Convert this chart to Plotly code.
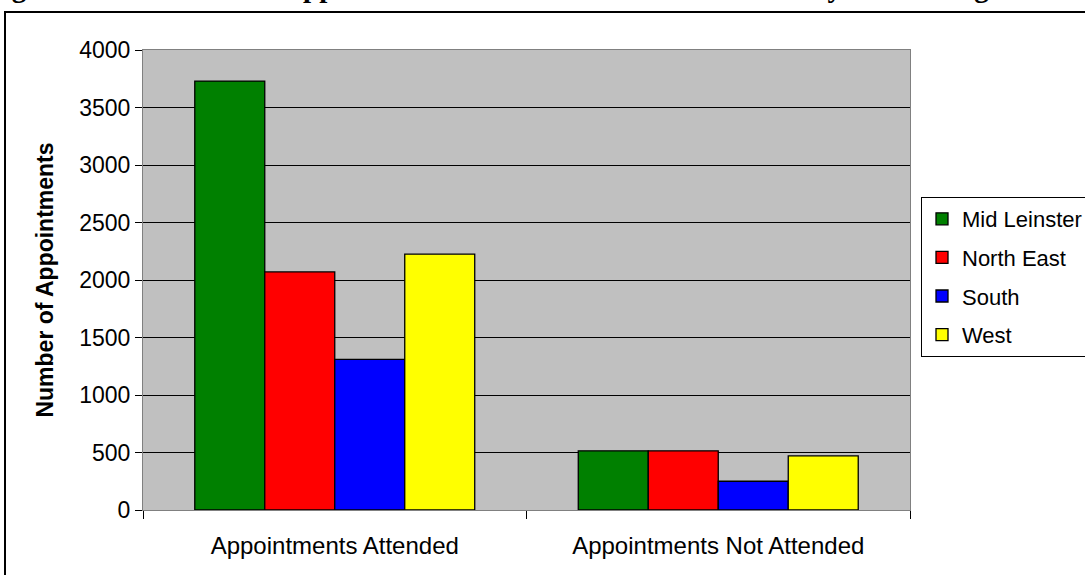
import plotly.graph_objects as go

categories = ["Appointments Attended", "Appointments Not Attended"]
regions = ["Mid Leinster", "North East", "South", "West"]
mid_leinster = [3730, 515]
north_east = [2070, 515]
south = [1310, 250]
west = [2225, 470]
colors = ["#008000", "#FF0000", "#0000FF", "#FFFF00"]
y_ticks = [0, 500, 1000, 1500, 2000, 2500, 3000, 3500, 4000]
title_text = "Figure 4.12: Number of Appointments Attended and Not Attended by Health Region"

series = [mid_leinster, north_east, south, west]

fig = go.Figure()
for name, vals, col in zip(regions, series, colors):
    fig.add_trace(go.Bar(
        x=categories, y=vals, name=name, legendgroup=name,
        marker=dict(color=col, line=dict(color="black", width=1.3)),
    ))

W, H = 1085, 575
L, T = 143, 50
pw, ph = 910 - 143, 510 - 50
R = W - L - pw
B = H - T - ph

def px(xs):
    return (xs - L) / pw

def py(ys):
    return (T + ph - ys) / ph

fig.update_layout(
    width=W, height=H,
    margin=dict(l=L, r=R, t=T, b=B, autoexpand=False),
    paper_bgcolor="white",
    plot_bgcolor="#C0C0C0",
    barmode="group",
    bargap=0.27,
    bargroupgap=0,
    font=dict(family="Liberation Sans, Arial", size=22, color="black"),
    showlegend=True,
    legend=dict(
        x=px(921), y=py(197), xanchor="left", yanchor="top",
        bgcolor="white", bordercolor="black", borderwidth=1,
        font=dict(size=22), tracegroupgap=7, traceorder="grouped",
    ),
    xaxis=dict(
        showline=True, linecolor="#808080", linewidth=1, mirror=True,
        ticks="outside", tickson="boundaries", ticklen=8, tickcolor="black",
        showgrid=False, ticklabelstandoff=14, tickfont=dict(size=24),
    ),
    yaxis=dict(
        range=[0, 4000], tickvals=y_ticks,
        showline=True, linecolor="#808080", linewidth=1, mirror=True,
        ticks="outside", ticklen=7, tickcolor="black",
        showgrid=True, gridcolor="black", gridwidth=1,
        zeroline=False, tickfont=dict(size=23),
        title=dict(text="<b>Number of Appointments</b>", font=dict(size=23), standoff=19),
    ),
    shapes=[dict(
        type="rect", xref="paper", yref="paper",
        x0=px(5), x1=px(1200), y0=py(700), y1=py(12),
        line=dict(color="black", width=2), fillcolor="rgba(0,0,0,0)", layer="below",
    )],
    annotations=[dict(
        text="<b>" + title_text + "</b>", xref="paper", yref="paper",
        x=px(-16), y=py(5), xanchor="left", yanchor="bottom", showarrow=False,
        font=dict(family="Liberation Serif, Times New Roman", size=29, color="black"),
    )],
)

fig.write_html(
    "out.html",
    config={"displayModeBar": False},
    post_script="document.body.style.margin='0';document.body.style.overflow='hidden';",
)
